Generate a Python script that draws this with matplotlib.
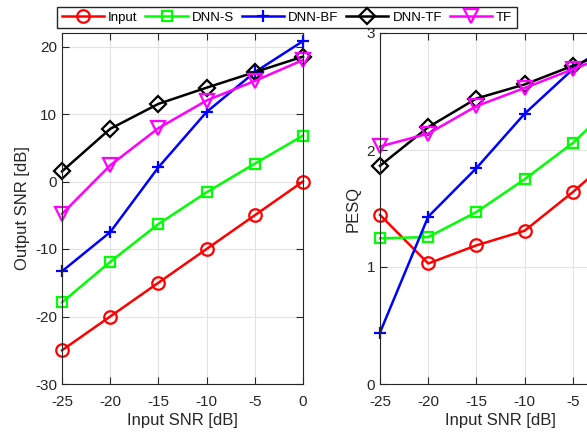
import matplotlib.pyplot as plt

plt.rcParams['font.family'] = ['Liberation Sans', 'DejaVu Sans']
plt.rcParams['axes.unicode_minus'] = False

snr_in = [-25, -20, -15, -10, -5, 0]
labels = ['Input', 'DNN-S', 'DNN-BF', 'DNN-TF', 'TF']

# Output SNR [dB]
snr_input = [-25, -20, -15, -10, -5, 0]
snr_dnn_s = [-17.9, -11.9, -6.3, -1.6, 2.65, 6.8]
snr_dnn_bf = [-13.3, -7.5, 2.1, 10.3, 16.2, 20.8]
snr_dnn_tf = [1.5, 7.8, 11.5, 13.9, 16.2, 18.5]
snr_tf = [-4.8, 2.4, 7.9, 12.0, 14.9, 18.0]

# PESQ
pesq_input = [1.445, 1.03, 1.185, 1.31, 1.64, 2.0]
pesq_dnn_s = [1.245, 1.256, 1.47, 1.75, 2.06, 2.45]
pesq_dnn_bf = [0.44, 1.43, 1.845, 2.31, 2.69, 2.98]
pesq_dnn_tf = [1.865, 2.195, 2.44, 2.56, 2.72, 2.88]
pesq_tf = [2.03, 2.14, 2.375, 2.53, 2.69, 2.85]

colors = ['#ff0000', '#00ff00', '#0000ff', '#000000', '#ff00ff']
markers = ['o', 's', '+', 'D', 'v']
msizes = [9, 7, 9, 8, 10]

fig = plt.figure(figsize=(5.87, 4.34), dpi=100)
ax1 = fig.add_axes([62/587, 1-384/434, 241/587, 351/434])
ax2 = fig.add_axes([380/587, 1-384/434, 241/587, 351/434])

snr_series = [snr_input, snr_dnn_s, snr_dnn_bf, snr_dnn_tf, snr_tf]
pesq_series = [pesq_input, pesq_dnn_s, pesq_dnn_bf, pesq_dnn_tf, pesq_tf]

for i in range(5):
    ax1.plot(snr_in, snr_series[i], color=colors[i], marker=markers[i], ms=msizes[i],
             mfc='none', mew=1.6, lw=1.8, label=labels[i], clip_on=False)
    ax2.plot(snr_in, pesq_series[i], color=colors[i], marker=markers[i], ms=msizes[i],
             mfc='none', mew=1.6, lw=1.8, clip_on=False)

ax1.set_xlim(-25, 0)
ax1.set_ylim(-30, 22)
ax1.set_yticks([-30, -20, -10, 0, 10, 20])
ax1.set_ylabel('Output SNR [dB]', fontsize=12, color='#262626', labelpad=4)

ax2.set_xlim(-25, 0)
ax2.set_ylim(0, 3)
ax2.set_yticks([0, 1, 2, 3])
ax2.set_ylabel('PESQ', fontsize=12, color='#262626', labelpad=4)

for ax in (ax1, ax2):
    ax.set_xticks(snr_in)
    ax.set_xlabel('Input SNR [dB]', fontsize=12, color='#262626', labelpad=3)
    ax.grid(True, color='#e3e3e3', lw=0.8)
    ax.set_axisbelow(True)
    ax.tick_params(direction='in', top=True, right=True, labelsize=11,
                   colors='#262626', length=5, width=0.8)
    ax.tick_params(axis='x', pad=8)
    for s in ax.spines.values():
        s.set_color('#262626')
        s.set_linewidth(0.8)

fig.legend(loc='center', bbox_to_anchor=(287/587, 1-17.5/434), ncol=5,
           fancybox=False, edgecolor='#262626', framealpha=1, fontsize=9.5,
           handlelength=3.2, columnspacing=0.6, handletextpad=0.3,
           borderpad=0.35, borderaxespad=0)

plt.savefig('out.png', dpi=100)
